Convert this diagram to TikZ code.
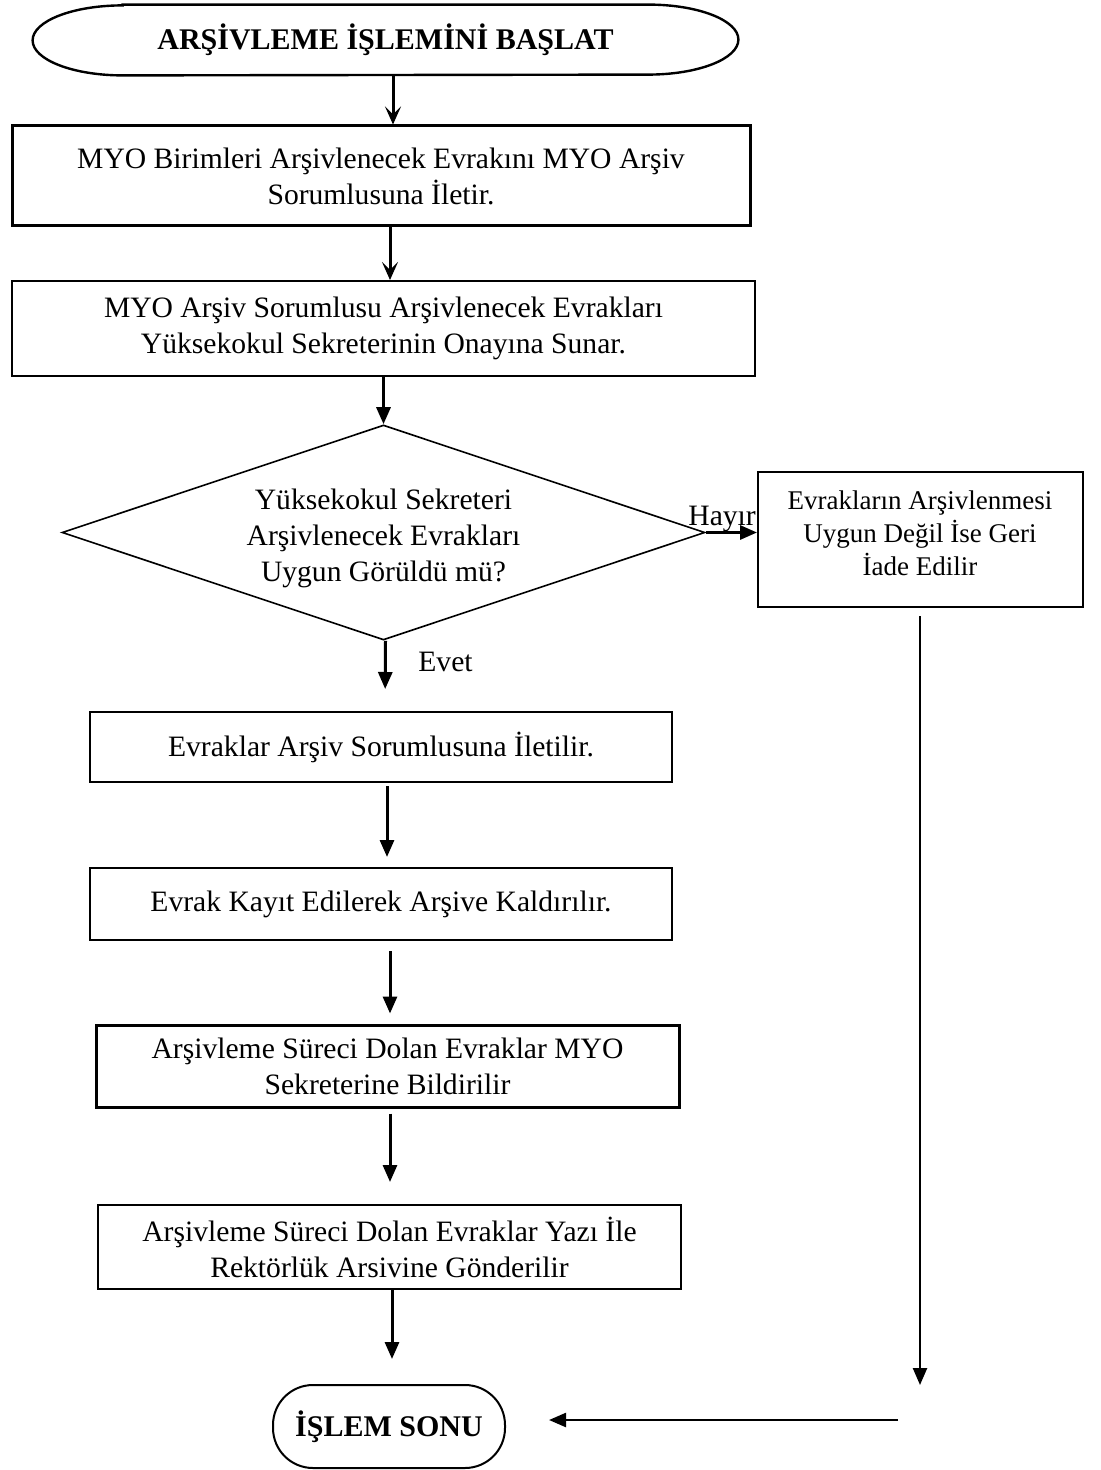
\documentclass[tikz,border=0pt]{standalone}
\usepackage{fontspec}
\setmainfont{Liberation Serif}
\usetikzlibrary{shapes.geometric,arrows.meta}

\begin{document}
\begin{tikzpicture}[x=0.5pt,y=-0.5pt,
  txt/.style={align=center,inner sep=0pt,font=\fontsize{14.8}{18}\selectfont},
  smalltxt/.style={align=center,inner sep=0pt,font=\fontsize{13.5}{16.5}\selectfont},
  procbox/.style={draw,rectangle,line width=1pt,txt},
  heavybox/.style={procbox,line width=1.5pt},
  terminal/.style={rectangle,inner sep=0pt,font=\bfseries\fontsize{15}{18}\selectfont},
  dia/.style={draw,diamond,line width=0.8pt,inner sep=0pt},
  arr/.style={line width=1.5pt,-{Triangle[length=8.5pt,width=7pt]}},
  barb/.style={line width=1.5pt,-{Stealth[length=9pt,width=8pt,inset=4pt]}},
]
\useasboundingbox (0,0) rectangle (1100,1470);

% start terminal: flat top and bottom with elliptical ends
\node[terminal,minimum width=352.5pt,minimum height=35pt] (start) at (385.5,40) {ARŞİVLEME İŞLEMİNİ BAŞLAT};
\draw[line width=1.2pt]
  ([xshift=45pt]start.north west) -- ([xshift=-45pt]start.north east)
  arc[start angle=90,end angle=-90,x radius=45pt,y radius=17.5pt]
  -- ([xshift=45pt]start.south west)
  arc[start angle=270,end angle=90,x radius=45pt,y radius=17.5pt] -- cycle;

\node[heavybox,minimum width=369pt,minimum height=50pt] (b1) at (381,176)
  {MYO Birimleri Arşivlenecek Evrakını MYO Arşiv\\Sorumlusuna İletir.};
\node[procbox,minimum width=371.5pt,minimum height=47.5pt] (b2) at (383.5,328.5)
  {MYO Arşiv Sorumlusu Arşivlenecek Evrakları\\Yüksekokul Sekreterinin Onayına Sunar.};

% decision
\node[dia,minimum width=321.5pt,minimum height=107.5pt] (dec) at (383.5,532.5) {};
\node[txt] (dectxt) at (383.5,538) {Yüksekokul Sekreteri\\Arşivlenecek Evrakları\\Uygun Görüldü mü?};

\node[draw,rectangle,line width=1pt,minimum width=162.5pt,minimum height=67.5pt] (rb) at (920.5,539.5) {};
\node[smalltxt] (rbtxt) at (920,533) {Evrakların Arşivlenmesi\\Uygun Değil İse Geri\\İade Edilir};

\node[procbox,minimum width=291pt,minimum height=35pt] (b3) at (381,747) {Evraklar Arşiv Sorumlusuna İletilir.};
\node[procbox,minimum width=291pt,minimum height=36pt] (b4) at (381,904) {Evrak Kayıt Edilerek Arşive Kaldırılır.};
\node[heavybox,minimum width=291.5pt,minimum height=41pt] (b5) at (387.5,1066)
  {Arşivleme Süreci Dolan Evraklar MYO\\Sekreterine Bildirilir};
\node[procbox,minimum width=291.5pt,minimum height=42pt] (b6) at (389.5,1247)
  {Arşivleme Süreci Dolan Evraklar Yazı İle\\Rektörlük Arsivine Gönderilir};

% end terminal
\node[draw,rectangle,rounded corners=20pt,line width=1pt,terminal,minimum width=116pt,minimum height=41.5pt] (end) at (389,1426.5) {İŞLEM SONU};

% connectors
\draw[barb] ([xshift=3.75pt]start.south) -- ([xshift=6pt]b1.north);
\draw[barb] ([xshift=4.5pt]b1.south) -- ([xshift=3.25pt]b2.north);
\draw[arr] (b2.south) -- (dec.north);
\draw[arr,shorten >=11pt] ([xshift=1pt]dec.south) -- ([xshift=2pt]b3.north);
\draw[arr,shorten <=1.5pt,shorten >=5pt] ([xshift=3pt]b3.south) -- ([xshift=3pt]b4.north);
\draw[arr,shorten <=5pt,shorten >=5pt] ([xshift=4.5pt]b4.south) -- ([xshift=1.25pt]b5.north);
\draw[arr,shorten <=2.5pt,shorten >=11pt] ([xshift=1.25pt]b5.south) -- ([xshift=0.25pt]b6.north);
\draw[arr,shorten >=12.5pt] ([xshift=1.25pt]b6.south) -- ([xshift=1.5pt]end.north);
\draw[arr] (dec.east) -- (dec.east -| rb.west);
\node[txt,anchor=south west] (hayir) at (688,532) {Hayır};
\node[txt,anchor=west] (evet) at (418,662) {Evet};

\coordinate (downend) at (920,1385);
\coordinate (backstart) at (898,1420);
\draw[arr,line width=1.2pt,shorten <=4pt] (rb.south -| downend) -- (downend);
\draw[arr,line width=1.2pt,shorten >=21.5pt] (backstart) -- (backstart -| end.east);
\end{tikzpicture}
\end{document}
